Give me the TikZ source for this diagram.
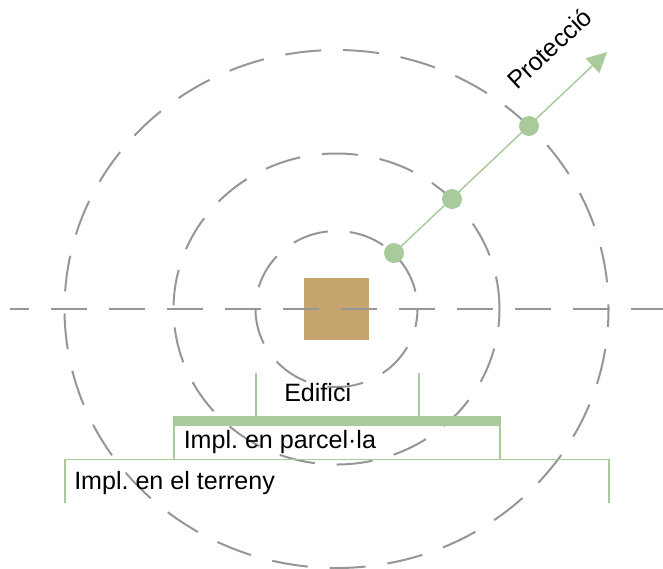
\documentclass[tikz,border=0pt]{standalone}
\usepackage{fontspec}
\setmainfont{Liberation Sans}
\usetikzlibrary{arrows.meta}
\definecolor{ringgray}{RGB}{150,150,150}
\definecolor{leafgreen}{RGB}{169,202,154}
\definecolor{plottan}{RGB}{197,164,110}
\frenchspacing
\begin{document}
\begin{tikzpicture}[x=0.75pt, y=-0.75pt,
  ring/.style={draw=ringgray, line width=1.5pt,
    dash pattern=on 27pt off 16.5pt, dash phase=13.5pt},
  axis/.style={draw=ringgray, line width=1.5pt,
    dash pattern=on 27pt off 16.5pt, dash phase=12.75pt},
  bldg/.style={rectangle, fill=plottan, minimum width=48.75pt,
    minimum height=46.5pt, inner sep=0pt},
  dot/.style={circle, fill=leafgreen, minimum size=15pt, inner sep=0pt},
  span/.style={draw=leafgreen, line width=1.1pt},
  lbl/.style={font=\fontsize{18.8}{22}\selectfont, inner sep=0pt},
]
\useasboundingbox (0,0) rectangle (663,568);

% Building
\node[bldg] (edifici) at (336.5,309) {};

% Protection rings
\draw[ring] (336.5,309) ellipse [x radius=81, y radius=78];
\draw[ring] (336.5,309) ellipse [x radius=163, y radius=155.5];
\draw[ring] (336.5,309) ellipse [x radius=272, y radius=259];

% Axis
\coordinate (axw) at (10,309);
\coordinate (axe) at (663,309);
\draw[axis] (axw) -- (axe);

% Edifici
\coordinate (e1) at (256,373);
\coordinate (e2) at (419,373);
\draw[span] (e1) -- (256,416);
\draw[span] (e2) -- (419,416);

% Impl. en parcel·la
\fill[leafgreen] (173,416) rectangle (501,426);
\draw[span] (174,426) -- (174,459);
\draw[span] (500,426) -- (500,459);

% Impl. en el terreny
\draw[span] (65,503) -- (65,459.5) -- (609,459.5) -- (609,503);

% Protection arrow
\coordinate (tip) at (607,52);
\draw[span, -{Triangle[length=15pt, width=15pt]}] (394,253) -- (tip);
\node[dot] (p1) at (394,253) {};
\node[dot] (p2) at (452,199) {};
\node[dot] (p3) at (529,126) {};

% Labels
\node[lbl, anchor=base west] (ledif) at (284,401) {Edifici};
\node[lbl, anchor=base west] (lparc) at (183.5,448) {Impl. en parcel·la};
\node[lbl, anchor=base west] (lterr) at (74,489) {Impl. en el terreny};
\node[lbl, anchor=base west, rotate=43] (lprot) at (517,91) {Protecció};

\end{tikzpicture}
\end{document}
